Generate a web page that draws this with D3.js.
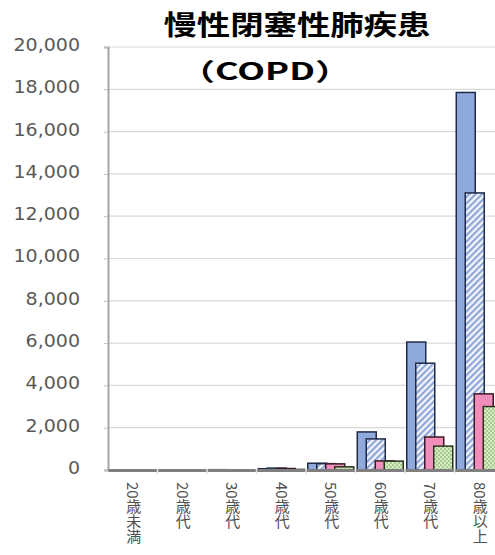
<!DOCTYPE html>
<html>
<head>
<meta charset="utf-8">
<script src="https://cdn.jsdelivr.net/npm/d3@7"></script>
<style>
  html, body { margin: 0; padding: 0; background: #fff; }
  svg { display: block; }
</style>
</head>
<body>
<svg id="chart" width="495" height="555"></svg>
<script>
// COPD patients by age group, 4 series (clipped on the right as in the source)
const categories = ["20歳未満", "20歳代", "30歳代", "40歳代", "50歳代", "60歳代", "70歳代", "80歳以上"];
const seriesNames = ["s1", "s2", "s3", "s4"];
const s1 = [0, 5, 15, 60, 320, 1800, 6050, 17850];
const s2 = [0, 3, 10, 90, 300, 1470, 5050, 13100];
const s3 = [0, 2, 8, 70, 290, 430, 1560, 3600];
const s4 = [0, 1, 5, 30, 150, 420, 1130, 3000];
const yTicks = [0, 2000, 4000, 6000, 8000, 10000, 12000, 14000, 16000, 18000, 20000];

const width = 495, height = 555;
const margin = {top: 47, right: -9, bottom: 85, left: 108};

const svg = d3.select("#chart");

const x = d3.scaleBand()
  .domain(categories)
  .range([margin.left, width - margin.right]);

const y = d3.scaleLinear()
  .domain([0, 20000])
  .range([height - margin.bottom, margin.top]);

// bars overlap: offset of each bar's centre within a group
const barW = 19;
const xSub = d3.scalePoint()
  .domain(seriesNames)
  .range([-13.5, 13.5]);

// patterns
const defs = svg.append("defs");
const hatch = defs.append("pattern")
  .attr("id", "hatch")
  .attr("patternUnits", "userSpaceOnUse")
  .attr("width", 4.5).attr("height", 4.5)
  .attr("patternTransform", "rotate(45)");
hatch.append("rect").attr("width", 4.5).attr("height", 4.5).attr("fill", "#f4f6fc");
hatch.append("rect").attr("width", 2.2).attr("height", 4.5).attr("fill", "#8ea6da");

const dots = defs.append("pattern")
  .attr("id", "dots")
  .attr("patternUnits", "userSpaceOnUse")
  .attr("width", 4).attr("height", 4);
dots.append("rect").attr("width", 4).attr("height", 4).attr("fill", "#d8eac8");
dots.append("rect").attr("width", 2).attr("height", 2).attr("fill", "#a9cc8c");
dots.append("rect").attr("x", 2).attr("y", 2).attr("width", 2).attr("height", 2).attr("fill", "#a9cc8c");

const fills = {s1: "#8fa9dd", s2: "url(#hatch)", s3: "#f08dbb", s4: "url(#dots)"};
const strokes = {s1: "#1e2a48", s2: "#1e2a48", s3: "#3a1a28", s4: "#2a3320"};

// gridlines
svg.append("g")
  .selectAll("line")
  .data(yTicks.filter(d => d > 0))
  .join("line")
  .attr("x1", margin.left)
  .attr("x2", width - margin.right)
  .attr("y1", d => y(d))
  .attr("y2", d => y(d))
  .attr("stroke", "#d9d9d9")
  .attr("stroke-width", 1.2);

// y axis
const yAxis = svg.append("g")
  .attr("transform", `translate(${margin.left},0)`)
  .call(d3.axisLeft(y).tickValues(yTicks).tickSize(4).tickPadding(24).tickFormat(d3.format(",")));
yAxis.select(".domain").attr("stroke", "#a6a6a6").attr("stroke-width", 2);
yAxis.selectAll(".tick line").attr("stroke", "#bfbfbf");
yAxis.selectAll(".tick text")
  .attr("x", 0)
  .attr("transform", "translate(-28,0) scale(1.12,1)")
  .attr("fill", "#595959")
  .style("font-family", "'DejaVu Sans', Verdana, sans-serif")
  .style("font-size", "17px")
  .attr("dy", "0.2em");

// bars
const rows = seriesNames.map((s, i) => ({key: s, values: [s1, s2, s3, s4][i]}));
rows.forEach(row => {
  svg.append("g")
    .selectAll("rect")
    .data(row.values.map((v, j) => ({cat: categories[j], v})))
    .join("rect")
    .attr("x", d => x(d.cat) + x.bandwidth() / 2 + xSub(row.key) - barW / 2)
    .attr("y", d => y(d.v))
    .attr("width", barW)
    .attr("height", d => y(0) - y(d.v))
    .attr("fill", fills[row.key])
    .attr("stroke", strokes[row.key])
    .attr("stroke-width", 1.5);
});

// x axis, with small marks between categories
const xAxis = svg.append("g")
  .attr("transform", `translate(0,${y(0)})`)
  .call(d3.axisBottom(x).tickSize(0).tickFormat(""));
xAxis.select(".domain").attr("stroke", "#7f7f7f").attr("stroke-width", 3);
xAxis.selectAll(".tick").remove();
xAxis.selectAll(".sep")
  .data(categories.slice(1))
  .join("line")
  .attr("x1", d => x(d))
  .attr("x2", d => x(d))
  .attr("y1", -1)
  .attr("y2", 4)
  .attr("stroke", "#e0e0e0")
  .attr("stroke-width", 1.5);

svg.append("g")
  .selectAll("text")
  .data(categories)
  .join("text")
  .attr("x", d => x(d) + x.bandwidth() / 2 + 1)
  .attr("y", y(0) + 12)
  .style("writing-mode", "vertical-rl")
  .style("font-family", "'Noto Sans CJK JP', sans-serif")
  .style("font-size", "15px")
  .attr("fill", "#505050")
  .text(d => d);

// title
svg.append("text")
  .attr("x", 297)
  .attr("y", 35)
  .attr("text-anchor", "middle")
  .attr("textLength", 267)
  .attr("lengthAdjust", "spacingAndGlyphs")
  .style("font-family", "'Noto Sans CJK JP', sans-serif")
  .style("font-weight", "bold")
  .style("font-size", "27px")
  .attr("fill", "#000")
  .text("慢性閉塞性肺疾患");

svg.append("text")
  .attr("x", 265)
  .attr("y", 80)
  .attr("text-anchor", "middle")
  .attr("textLength", 172)
  .attr("lengthAdjust", "spacingAndGlyphs")
  .style("font-family", "'Noto Sans CJK JP', sans-serif")
  .style("font-weight", "bold")
  .style("font-size", "24px")
  .attr("fill", "#000")
  .text("（COPD）");
</script>
</body>
</html>
